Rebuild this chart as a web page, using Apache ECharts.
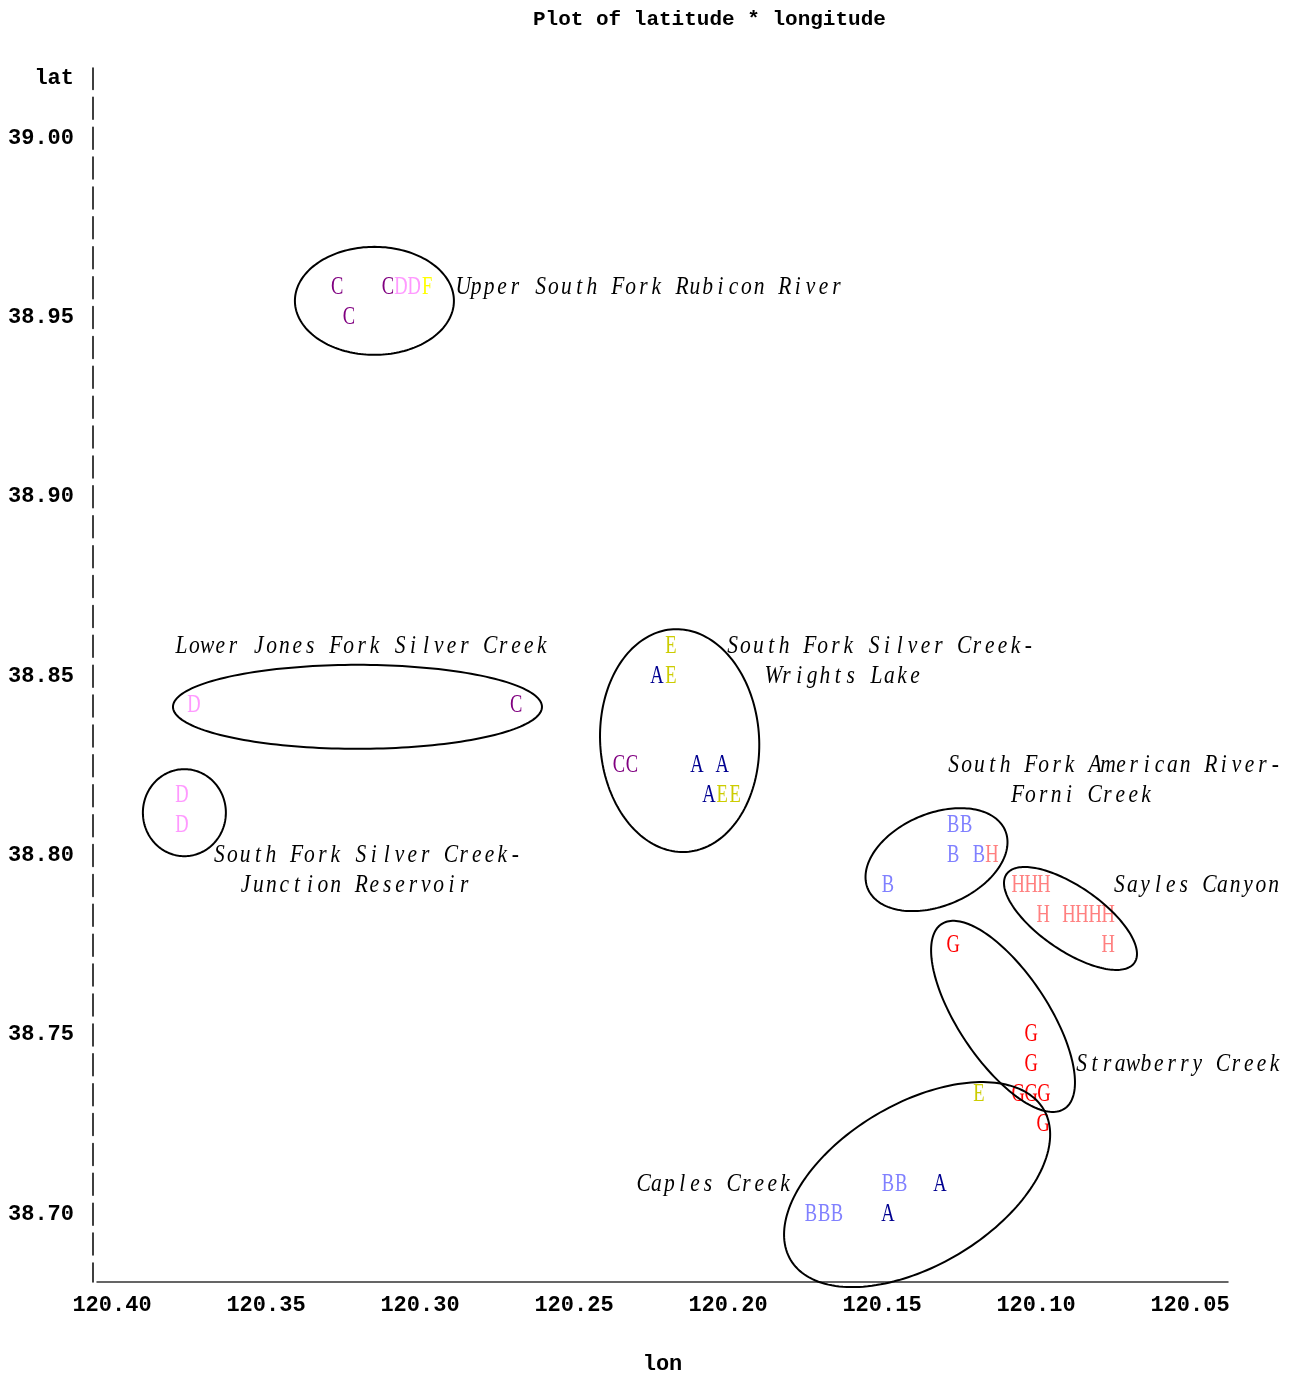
<!DOCTYPE html>
<html>
<head>
<meta charset="utf-8">
<script src="https://cdn.jsdelivr.net/npm/echarts@6/dist/echarts.min.js"></script>
<style>
html,body{margin:0;padding:0;background:#fff;}
#chart{width:1299px;height:1373px;}
</style>
</head>
<body>
<div id="chart"></div>
<script>
// ---------- data ----------
const lonTicks = [120.40, 120.35, 120.30, 120.25, 120.20, 120.15, 120.10, 120.05];
const latTicks = [39.00, 38.95, 38.90, 38.85, 38.80, 38.75, 38.70];
const latNameRow = 39.01667;

const ptsA = [[120.2231,38.85],[120.2101,38.825],[120.2019,38.825],[120.2062,38.8167],[120.1312,38.7083],[120.1481,38.70]];
const ptsB = [[120.1269,38.8083],[120.1227,38.8083],[120.1269,38.80],[120.1185,38.80],[120.1481,38.7917],[120.1481,38.7083],[120.1438,38.7083],[120.1731,38.70],[120.1688,38.70],[120.1646,38.70]];
const ptsC = [[120.3269,38.9583],[120.3104,38.9583],[120.3231,38.95],[120.2688,38.8417],[120.2354,38.825],[120.2312,38.825]];
const ptsD = [[120.3062,38.9583],[120.3019,38.9583],[120.3734,38.8417],[120.3773,38.8167],[120.3773,38.8083]];
const ptsE = [[120.2185,38.8583],[120.2185,38.85],[120.2019,38.8167],[120.1977,38.8167],[120.1185,38.7333]];
const ptsF = [[120.2977,38.9583]];
const ptsG = [[120.1269,38.775],[120.1016,38.75],[120.1016,38.7417],[120.1058,38.7333],[120.1016,38.7333],[120.0974,38.7333],[120.0977,38.725]];
const ptsH = [[120.1143,38.80],[120.1058,38.7917],[120.1016,38.7917],[120.0974,38.7917],[120.0977,38.7833],[120.0893,38.7833],[120.0851,38.7833],[120.0808,38.7833],[120.0766,38.7833],[120.0766,38.775]];

const labelText = ["Upper South Fork Rubicon River","Lower Jones Fork Silver Creek","South Fork Silver Creek-","Wrights Lake","South Fork Silver Creek-","Junction Reservoir","South Fork American River-","Forni Creek","Sayles Canyon","Strawberry Creek","Caples Creek"];
const labelLon = [120.2880,120.3795,120.2006,120.1873,120.3672,120.3587,120.1288,120.1081,120.0750,120.0873,120.2295];
const labelLat = [38.9583,38.8583,38.8583,38.85,38.80,38.7917,38.825,38.8167,38.7917,38.7417,38.7083];

// ellipse centres (data) for each group
const ellLon = [120.3148,120.3203,120.3765,120.2157,120.1323,120.0888,120.1107,120.1386];
const ellLat = [38.9546,38.8414,38.8119,38.8320,38.7988,38.7824,38.7551,38.7082];
// ellipse geometry (pixels / degrees)
const ellRx = [79.5,184.5,41.5,79.5,74.6,77.8,110.9,147.2];
const ellRy = [54,42,43.5,111.5,46.1,31.9,44.8,80.9];
const ellRot = [0,0,0,-3.3,-23,34.7,56.3,-30.8];

// ---------- style ----------
const letterColors = {A:'#000090',B:'#8080FF',C:'#800080',D:'#FF99FF',E:'#CCCC00',F:'#FFFF00',G:'#FF0000',H:'#FF8080'};
const letterPts = {A:ptsA,B:ptsB,C:ptsC,D:ptsD,E:ptsE,F:ptsF,G:ptsG,H:ptsH};
const CW = 12.86;

const chart = echarts.init(document.getElementById('chart'), null, {renderer:'canvas'});

const series = [];
Object.keys(letterPts).forEach(function(L){
  series.push({
    type:'custom', name:L, coordinateSystem:'cartesian2d',
    data: letterPts[L],
    encode:{x:0,y:1},
    renderItem:function(params, api){
      const p = api.coord([api.value(0), api.value(1)]);
      return {type:'text', x:p[0], y:p[1], scaleX:0.74,
        style:{text:L, fill:letterColors[L], font:'25px "Liberation Serif"', align:'center', verticalAlign:'middle'}};
    }
  });
});

series.push({
  type:'custom', name:'labels', coordinateSystem:'cartesian2d',
  data: labelText.map(function(t,i){return [labelLon[i], labelLat[i], i];}),
  encode:{x:0,y:1},
  renderItem:function(params, api){
    const p = api.coord([api.value(0), api.value(1)]);
    const txt = labelText[api.value(2)];
    const children = [];
    for (let j=0;j<txt.length;j++){
      if (txt[j]===' ') continue;
      children.push({type:'text', x:p[0]+(j+0.5)*CW, y:p[1], scaleX:0.86,
        style:{text:txt[j], fill:'#000', font:'italic 25px "Liberation Serif"', align:'center', verticalAlign:'middle'}});
    }
    return {type:'group', children:children};
  }
});

series.push({
  type:'custom', name:'ellipses', coordinateSystem:'cartesian2d',
  data: ellLon.map(function(v,i){return [v, ellLat[i], i];}),
  encode:{x:0,y:1},
  renderItem:function(params, api){
    const i = api.value(2);
    const c = api.coord([api.value(0), api.value(1)]);
    const th = ellRot[i]*Math.PI/180, ct=Math.cos(th), st=Math.sin(th);
    const pts = [];
    for (let k=0;k<180;k++){
      const t = k/180*2*Math.PI;
      const lx = ellRx[i]*Math.cos(t), ly = ellRy[i]*Math.sin(t);
      pts.push([c[0]+lx*ct-ly*st, c[1]+lx*st+ly*ct]);
    }
    return {type:'polygon', shape:{points:pts}, style:{fill:'none', stroke:'#000', lineWidth:2}};
  }
});

chart.setOption({
  animation:false,
  backgroundColor:'#fff',
  title:{text:'Plot of latitude * longitude', left:528, top:4,
    textStyle:{fontFamily:'Liberation Mono', fontWeight:'bold', fontSize:21, color:'#000'}},
  grid:{left:97, width:1131, top:68, height:1214, containLabel:false, outerBoundsMode:'none'},
  xAxis:{
    type:'value', inverse:true, min:120.03766, max:120.40487,
    axisLine:{show:true, lineStyle:{color:'#333', width:1.5}},
    axisTick:{show:false}, splitLine:{show:false},
    axisLabel:{customValues:lonTicks, margin:12, color:'#000',
      fontFamily:'Liberation Mono', fontWeight:'bold', fontSize:22,
      formatter:function(v){return v.toFixed(2);}},
    name:'lon', nameLocation:'middle', nameGap:71,
    nameTextStyle:{fontFamily:'Liberation Mono', fontWeight:'bold', fontSize:22, color:'#000'}
  },
  yAxis:{
    type:'value', min:38.68104, max:39.01952, offset:4,
    axisLine:{show:true, lineStyle:{color:'#000', width:1.5, type:[22,7.89], dashOffset:3}},
    axisTick:{show:false}, splitLine:{show:false},
    axisLabel:{customValues:latTicks.concat([latNameRow]), margin:19, color:'#000',
      fontFamily:'Liberation Mono', fontWeight:'bold', fontSize:22,
      formatter:function(v){return Math.abs(v-latNameRow)<1e-4 ? 'lat' : v.toFixed(2);}}
  },
  series:series
});
</script>
</body>
</html>
